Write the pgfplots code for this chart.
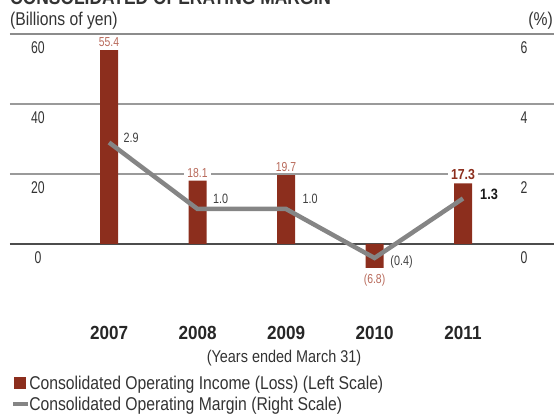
\documentclass[border=0pt]{standalone}
\usepackage{pgfplots}
\pgfplotsset{compat=1.18}
\usepackage{fontspec}
\setmainfont{Liberation Sans}
\newfontfamily\cond{Liberation Sans}[FakeStretch=0.85]
\newfontfamily\condn{Liberation Sans}[FakeStretch=0.72]
\newfontfamily\condl{Liberation Sans}[FakeStretch=0.8]
\newfontfamily\condy{Liberation Sans}[FakeStretch=0.9]
\newcommand\fs[1]{\fontsize{#1}{#1}\selectfont}
\definecolor{barred}{HTML}{8C2E1D}
\definecolor{lblred}{HTML}{B8695A}
\definecolor{linegray}{HTML}{858585}
\definecolor{txt}{HTML}{333333}
\definecolor{gridg}{HTML}{9A9A9A}
\tikzset{barlbl/.style={font={\condl\fs{13}}, text=lblred, fill=white, inner xsep=3pt, inner ysep=1pt},
  linelbl/.style={font={\condl\fs{13.5}}, text=black!75, inner sep=0pt}}
\begin{document}
\begin{tikzpicture}[x=1pt,y=1pt]
\useasboundingbox (0,0) rectangle (554,414);
\clip (0,0) rectangle (554,414);
\node[anchor=base west, inner sep=0, font={\cond\bfseries\fs{20.5}}, text=txt] at (10,409) {CONSOLIDATED OPERATING MARGIN};
\node[anchor=west, inner sep=0, font={\cond\fs{18.5}}, text=txt] at (10,393.5) {(Billions of yen)};
\node[anchor=east, inner sep=0, font={\cond\fs{18.5}}, text=txt] at (553,393.5) {(\%)};
\node[inner sep=0, font={\cond\fs{17}}, text=txt] at (284,56) {(Years ended March 31)};
\pgfplotsset{myaxis/.style={at={(10pt,380pt)}, anchor=north west, width=544pt, height=259pt,
  scale only axis, xmin=-1.119, xmax=5.028, axis line style={draw=none},
  major tick length=0pt, clip=false}}
\begin{axis}[myaxis,
  ymin=-14, ymax=60, ytick={0,20,40,60}, yticklabels={0,20,40,60},
  ymajorgrids, grid style={color=gridg, line width=1.2pt},
  yticklabel style={font={\condn\fs{17}}, text=txt, anchor=center, xshift=28pt, yshift=-14pt},
  xtick={0,1,2,3,4}, xticklabels={2007,2008,2009,2010,2011},
  xticklabel style={font={\condy\bfseries\fs{19}}, text=black!85, anchor=center, yshift=-40pt}]
\draw[color=black!70, line width=1.5pt] (axis cs:-1.119,0) -- (axis cs:5.028,0);
\draw[color=gray!90, line width=2pt] (axis cs:-1.119,60) -- (axis cs:5.028,60);
\addplot[ybar, bar width=18pt, fill=barred, draw=none] coordinates {(0,55.4) (1,18.1) (2,19.7) (3,-6.8) (4,17.3)};
\node[barlbl, yshift=8pt] at (axis cs:0,55.4) {55.4};
\node[barlbl, yshift=8pt] at (axis cs:1,18.1) {18.1};
\node[barlbl, yshift=8pt] at (axis cs:2,19.7) {19.7};
\node[barlbl, yshift=-12pt] at (axis cs:3,-6.8) {(6.8)};
\node[barlbl, yshift=8.5pt, font={\cond\bfseries\fs{14.5}}, text=barred] at (axis cs:4,17.3) {17.3};
\end{axis}
\begin{axis}[myaxis,
  ymin=-1.4, ymax=6, ytick={0,2,4,6}, yticklabels={0,2,4,6}, yticklabel pos=right,
  yticklabel style={font={\condn\fs{17}}, text=txt, anchor=center, xshift=-30pt, yshift=-14pt},
  xtick=\empty,
  legend style={at={(axis description cs:0.002,-0.311)}, anchor=north west, draw=none, fill=none,
    font={\cond\fs{18.5}}, text=txt, inner sep=0pt, row sep=2pt,
    /tikz/every even column/.append style={column sep=0pt},
    /tikz/every odd column/.append style={column sep=-3pt}},
  legend cell align=left]
\addlegendimage{legend image code/.code={\fill[barred] (0pt,-5.5pt) rectangle (11pt,5.5pt);}}
\addlegendentry{Consolidated Operating Income (Loss) (Left Scale)}
\addplot[linegray, line width=4.5pt, no markers,
  legend image code/.code={\draw[linegray, line width=4pt] (-1pt,0pt) -- (14pt,0pt);}]
  coordinates {(0,2.9) (1,1.0) (2,1.0) (3,-0.4) (4,1.3)};
\addlegendentry{Consolidated Operating Margin (Right Scale)}
\node[linelbl, xshift=22pt, yshift=4.5pt] at (axis cs:0,2.9) {2.9};
\node[linelbl, xshift=23pt, yshift=10pt] at (axis cs:1,1.0) {1.0};
\node[linelbl, xshift=24pt, yshift=10pt] at (axis cs:2,1.0) {1.0};
\node[linelbl, xshift=27pt, yshift=-4pt] at (axis cs:3,-0.4) {(0.4)};
\node[linelbl, xshift=26pt, yshift=4pt, font={\cond\bfseries\fs{15}}, text=black!90] at (axis cs:4,1.3) {1.3};
\end{axis}
\end{tikzpicture}
\end{document}
